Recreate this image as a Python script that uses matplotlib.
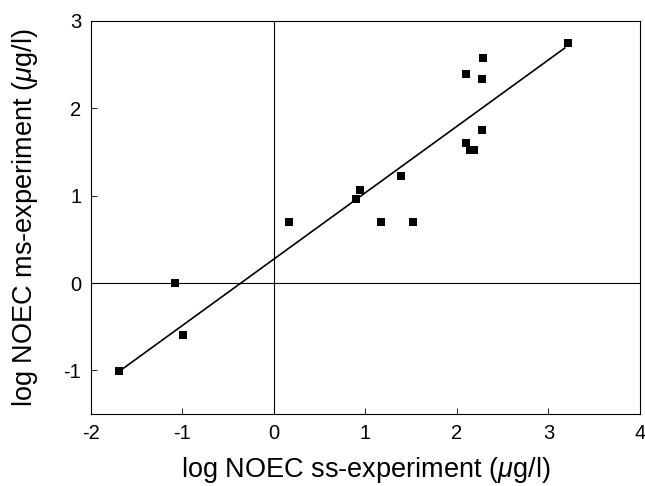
import numpy as np
import matplotlib
matplotlib.use('Agg')
import matplotlib.pyplot as plt

plt.rcParams['font.family'] = ['Liberation Sans', 'DejaVu Sans']
plt.rcParams['mathtext.fontset'] = 'custom'
plt.rcParams['mathtext.it'] = 'Liberation Sans:italic'
plt.rcParams['mathtext.rm'] = 'Liberation Sans'
plt.rcParams['axes.unicode_minus'] = False

# NOEC data (log ug/l)
noec_ss = [-1.69, -1.08, -0.99, 0.17, 0.90, 0.94, 1.17, 1.39, 1.52,
           2.10, 2.29, 2.27, 2.27, 2.10, 2.14, 2.19, 3.22]
noec_ms = [-1.01, 0.00, -0.60, 0.70, 0.96, 1.07, 0.70, 1.23, 0.70,
           2.39, 2.58, 2.33, 1.75, 1.60, 1.52, 1.52, 2.75]

# regression line end points
fit_x = [-1.69, 3.18]
fit_y = [-1.01, 2.69]

x_ticks = [-2, -1, 0, 1, 2, 3, 4]
y_ticks = [-1, 0, 1, 2, 3]

fig = plt.figure(figsize=(6.45, 4.86), dpi=100)
ax = fig.add_axes([0.141, 0.148, 0.851, 0.809])

ax.axhline(0, color='black', lw=0.8, zorder=1)
ax.axvline(0, color='black', lw=0.8, zorder=1)
ax.plot(fit_x, fit_y, color='black', lw=1.2, zorder=2)
ax.plot(noec_ss, noec_ms, linestyle='none', marker='s', markersize=6.3,
        markeredgewidth=0, color='black', zorder=3)

ax.set_xlim(-2, 4)
ax.set_ylim(-1.5, 3)
ax.set_xticks(x_ticks)
ax.set_yticks(y_ticks)
ax.tick_params(direction='in', length=4, width=0.6, labelsize=14.5, pad=7)
for s in ax.spines.values():
    s.set_linewidth(0.8)

ax.set_xlabel(r'log NOEC ss-experiment ($\mu$g/l)', fontsize=19.5, labelpad=9)
ax.set_ylabel(r'log NOEC ms-experiment ($\mu$g/l)', fontsize=19.5, labelpad=17)

fig.savefig('out.png', dpi=100)
